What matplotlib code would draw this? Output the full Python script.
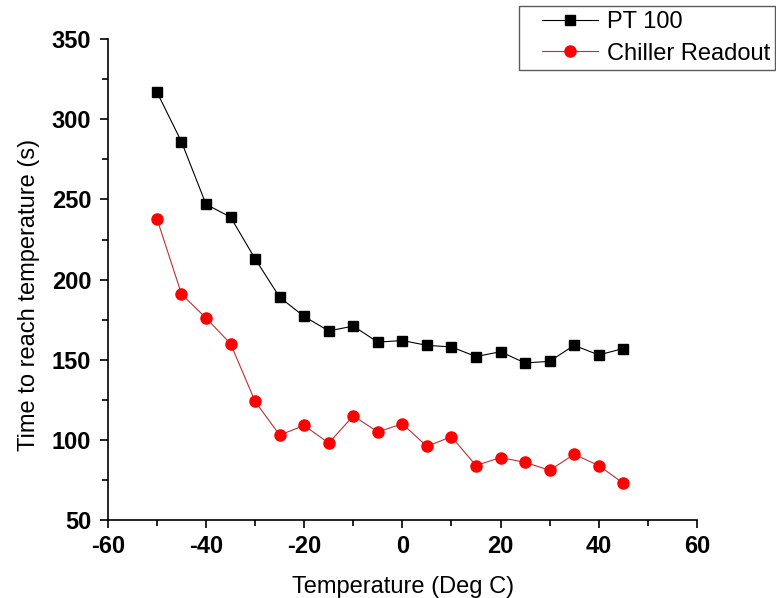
import numpy as np
import matplotlib.pyplot as plt
from matplotlib.ticker import MultipleLocator
from matplotlib.legend_handler import HandlerLine2D

plt.rcParams['font.family'] = ['Liberation Sans', 'DejaVu Sans']
plt.rcParams['axes.unicode_minus'] = False

# Temperature set points (Deg C)
temperature = [-50, -45, -40, -35, -30, -25, -20, -15, -10, -5,
               0, 5, 10, 15, 20, 25, 30, 35, 40, 45]

# Time to reach temperature (s)
pt100 = [317, 286, 247, 239, 213, 189, 177, 168, 171, 161,
         162, 159, 158, 152, 155, 148, 149, 159, 153, 157]
chiller = [238, 191, 176, 160, 124, 103, 109, 98, 115, 105,
           110, 96, 102, 84, 89, 86, 81, 91, 84, 73]

fig = plt.figure(figsize=(7.76, 5.98), dpi=100)
ax = fig.add_axes([0.139, 0.1304, 0.759, 0.804])

ax.plot(temperature, pt100, color='black', lw=0.8, marker='s', ms=7,
        mec='black', mfc='black', label='PT 100')
ax.plot(temperature, chiller, color='#c03030', lw=0.8, marker='o', ms=8,
        mec='red', mfc='red', label='Chiller Readout')

ax.set_xlim(-60, 60)
ax.set_ylim(50, 350)
ax.xaxis.set_major_locator(MultipleLocator(20))
ax.xaxis.set_minor_locator(MultipleLocator(10))
ax.yaxis.set_major_locator(MultipleLocator(50))
ax.yaxis.set_minor_locator(MultipleLocator(25))

for side in ['top', 'right']:
    ax.spines[side].set_visible(False)
for side in ['left', 'bottom']:
    ax.spines[side].set_linewidth(1.2)

ax.tick_params(which='major', direction='out', length=6, width=1.2,
               labelsize=17)
ax.tick_params(axis='x', which='major', pad=5)
ax.tick_params(axis='y', which='major', pad=6)
ax.tick_params(which='minor', direction='out', length=4, width=1.2)
for lbl in ax.get_xticklabels() + ax.get_yticklabels():
    lbl.set_fontweight('bold')

ax.set_xlabel('Temperature (Deg C)', fontsize=17)
ax.xaxis.label.set_va('baseline')
ax.xaxis.set_label_coords(0.501, -0.151)
ax.set_ylabel('Time to reach temperature (s)', fontsize=17)
ax.yaxis.label.set_va('center')
ax.yaxis.set_label_coords(-0.134, 0.468)

handler = HandlerLine2D(xpad=0.76)
leg = fig.legend(loc='upper right', bbox_to_anchor=(775 / 776, 1 - 6 / 598),
                 borderaxespad=0, fontsize=17, frameon=True, fancybox=False,
                 edgecolor='#333333', handlelength=3.1, borderpad=0.22,
                 labelspacing=0.4, handletextpad=0.38,
                 handler_map={ax.lines[0]: handler, ax.lines[1]: handler})
leg.get_frame().set_linewidth(1.0)

fig.savefig('out.png', dpi=100)
